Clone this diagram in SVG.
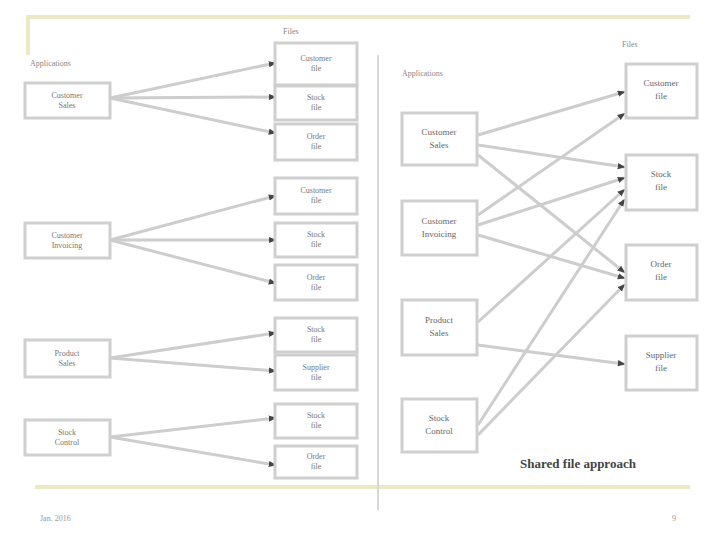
<svg xmlns="http://www.w3.org/2000/svg" width="720" height="540" viewBox="0 0 720 540">
<defs>
<style>
.box{fill:#fff;stroke:#cfcfcf;stroke-width:3}
.t{font-family:"Liberation Serif",serif;font-size:8px;fill:#777;text-anchor:middle}
.tr{font-family:"Liberation Serif",serif;font-size:9px;fill:#666;text-anchor:middle}
.lbl{font-family:"Liberation Serif",serif;font-size:8px;fill:#888}
.c{stroke:#cdcdcd;stroke-width:3;fill:none;marker-end:url(#ah)}
.deco{stroke:#ede9c4;stroke-width:4;fill:none}
</style>
<marker id="ah" viewBox="0 0 10 10" refX="8" refY="5" markerWidth="2.6" markerHeight="2.6" orient="auto" markerUnits="strokeWidth">
<path d="M0,1 L10,5 L0,9 z" fill="#444"/>
</marker>
</defs>
<rect width="720" height="540" fill="#fff"/>
<g id="frame">
<path class="deco" d="M28,55 V17 H690"/>
<path class="deco" d="M35,487 H690"/>
<line x1="378" y1="55" x2="378" y2="510" stroke="#d8d8d8" stroke-width="2"/>
</g>
<g id="labels">
<text class="lbl" x="30" y="66">Applications</text>
<text class="lbl" x="283" y="34">Files</text>
<text class="lbl" x="402" y="76" font-size="9">Applications</text>
<text class="lbl" x="622" y="47" font-size="9">Files</text>
<text x="578" y="468" font-family="Liberation Serif,serif" font-size="13" font-weight="bold" fill="#444" text-anchor="middle">Shared file approach</text>
<text x="40" y="521" font-family="Liberation Serif,serif" font-size="8" fill="#999">Jan. 2016</text>
<text x="672" y="521" font-family="Liberation Serif,serif" font-size="8" fill="#999">9</text>
</g>
<g id="connectors">
<line class="c" x1="110" y1="98" x2="275" y2="63"/>
<line class="c" x1="110" y1="98" x2="275" y2="97"/>
<line class="c" x1="110" y1="98" x2="275" y2="133"/>
<line class="c" x1="110" y1="240" x2="275" y2="196"/>
<line class="c" x1="110" y1="240" x2="275" y2="240"/>
<line class="c" x1="110" y1="240" x2="275" y2="283"/>
<line class="c" x1="110" y1="358" x2="275" y2="333"/>
<line class="c" x1="110" y1="358" x2="275" y2="371"/>
<line class="c" x1="110" y1="437" x2="275" y2="418"/>
<line class="c" x1="110" y1="437" x2="275" y2="465"/>
<line class="c" x1="478" y1="135" x2="624" y2="92"/>
<line class="c" x1="478" y1="145" x2="624" y2="167"/>
<line class="c" x1="478" y1="155" x2="624" y2="272"/>
<line class="c" x1="478" y1="215" x2="624" y2="114"/>
<line class="c" x1="478" y1="225" x2="624" y2="178"/>
<line class="c" x1="478" y1="235" x2="624" y2="278"/>
<line class="c" x1="478" y1="322" x2="624" y2="190"/>
<line class="c" x1="478" y1="345" x2="624" y2="364"/>
<line class="c" x1="478" y1="425" x2="624" y2="200"/>
<line class="c" x1="478" y1="435" x2="624" y2="285"/>
</g>
<g id="left-app-1"><rect class="box" x="25" y="83" width="85" height="35"/><text class="t" x="67" y="98">Customer</text><text class="t" x="67" y="108">Sales</text></g>
<g id="left-app-2"><rect class="box" x="25" y="223" width="85" height="35"/><text class="t" x="67" y="238">Customer</text><text class="t" x="67" y="248">Invoicing</text></g>
<g id="left-app-3"><rect class="box" x="25" y="340" width="85" height="37"/><text class="t" x="67" y="356">Product</text><text class="t" x="67" y="366">Sales</text></g>
<g id="left-app-4"><rect class="box" x="25" y="420" width="85" height="35"/><text class="t" x="67" y="435">Stock</text><text class="t" x="67" y="445">Control</text></g>
<g id="left-file-1a"><rect class="box" x="275" y="43" width="82" height="42"/><text class="t" x="316" y="61">Customer</text><text class="t" x="316" y="71">file</text></g>
<g id="left-file-1b"><rect class="box" x="275" y="86" width="82" height="34"/><text class="t" x="316" y="100">Stock</text><text class="t" x="316" y="110">file</text></g>
<g id="left-file-1c"><rect class="box" x="275" y="124" width="82" height="36"/><text class="t" x="316" y="139">Order</text><text class="t" x="316" y="149">file</text></g>
<g id="left-file-2a"><rect class="box" x="275" y="178" width="82" height="36"/><text class="t" x="316" y="193">Customer</text><text class="t" x="316" y="203">file</text></g>
<g id="left-file-2b"><rect class="box" x="275" y="223" width="82" height="34"/><text class="t" x="316" y="237">Stock</text><text class="t" x="316" y="247">file</text></g>
<g id="left-file-2c"><rect class="box" x="275" y="265" width="82" height="35"/><text class="t" x="316" y="280">Order</text><text class="t" x="316" y="290">file</text></g>
<g id="left-file-3a"><rect class="box" x="275" y="318" width="82" height="34"/><text class="t" x="316" y="332">Stock</text><text class="t" x="316" y="342">file</text></g>
<g id="left-file-3b"><rect class="box" x="275" y="355" width="82" height="35"/><text class="t" x="316" y="370">Supplier</text><text class="t" x="316" y="380">file</text></g>
<g id="left-file-4a"><rect class="box" x="275" y="404" width="82" height="34"/><text class="t" x="316" y="418">Stock</text><text class="t" x="316" y="428">file</text></g>
<g id="left-file-4b"><rect class="box" x="275" y="446" width="82" height="32"/><text class="t" x="316" y="459">Order</text><text class="t" x="316" y="469">file</text></g>
<g id="app-customer-sales"><rect class="box" x="402" y="113" width="75" height="52"/><text class="tr" x="439" y="135">Customer</text><text class="tr" x="439" y="148">Sales</text></g>
<g id="app-customer-invoicing"><rect class="box" x="402" y="201" width="75" height="54"/><text class="tr" x="439" y="224">Customer</text><text class="tr" x="439" y="237">Invoicing</text></g>
<g id="app-product-sales"><rect class="box" x="402" y="300" width="75" height="55"/><text class="tr" x="439" y="323">Product</text><text class="tr" x="439" y="336">Sales</text></g>
<g id="app-stock-control"><rect class="box" x="402" y="399" width="75" height="53"/><text class="tr" x="439" y="421">Stock</text><text class="tr" x="439" y="434">Control</text></g>
<g id="file-customer"><rect class="box" x="626" y="64" width="71" height="54"/><text class="tr" x="661" y="86">Customer</text><text class="tr" x="661" y="99">file</text></g>
<g id="file-stock"><rect class="box" x="626" y="155" width="71" height="55"/><text class="tr" x="661" y="177">Stock</text><text class="tr" x="661" y="190">file</text></g>
<g id="file-order"><rect class="box" x="626" y="245" width="71" height="55"/><text class="tr" x="661" y="267">Order</text><text class="tr" x="661" y="280">file</text></g>
<g id="file-supplier"><rect class="box" x="626" y="336" width="71" height="54"/><text class="tr" x="661" y="358">Supplier</text><text class="tr" x="661" y="371">file</text></g>
</svg>
